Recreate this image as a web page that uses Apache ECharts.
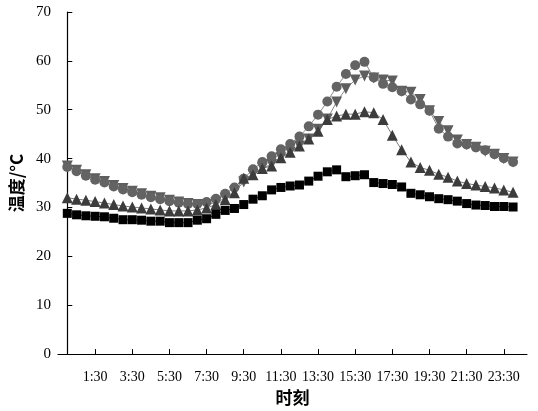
<!DOCTYPE html>
<html>
<head>
<meta charset="utf-8">
<script src="https://cdn.jsdelivr.net/npm/echarts@6/dist/echarts.min.js"></script>
<style>
html,body{margin:0;padding:0;background:#fff;}
#chart{width:538px;height:411px;}
</style>
</head>
<body>
<div id="chart"></div>
<script>
// time of each observation (hours)
var hours = [0,0.5,1,1.5,2,2.5,3,3.5,4,4.5,5,5.5,6,6.5,7,7.5,8,8.5,9,9.5,10,10.5,11,11.5,12,12.5,13,13.5,14,14.5,15,15.5,16,16.5,17,17.5,18,18.5,19,19.5,20,20.5,21,21.5,22,22.5,23,23.5,24];
var tickLabels = ['1:30','3:30','5:30','7:30','9:30','11:30','13:30','15:30','17:30','19:30','21:30','23:30'];
var tickHours = [1.5,3.5,5.5,7.5,9.5,11.5,13.5,15.5,17.5,19.5,21.5,23.5];

// series values (°C)
var seriesSquare = [28.8,28.5,28.3,28.2,28.1,27.8,27.5,27.5,27.4,27.2,27.2,26.9,26.9,26.9,27.4,27.7,28.6,29.4,29.8,30.6,31.7,32.4,33.6,34.1,34.4,34.6,35.4,36.4,37.3,37.7,36.3,36.5,36.7,35.1,34.9,34.7,34.2,32.9,32.6,32.2,31.8,31.6,31.3,30.8,30.5,30.4,30.2,30.2,30.1];
var seriesTriUp = [32.0,31.7,31.5,31.2,30.9,30.6,30.3,30.1,29.9,29.7,29.5,29.3,29.3,29.3,29.5,29.9,30.6,31.6,33.0,36.0,36.7,38.0,38.5,40.2,41.3,42.6,44.0,45.6,48.0,48.7,49.1,49.1,49.6,49.4,48.0,44.8,41.8,39.3,38.2,37.6,36.8,36.2,35.4,34.9,34.6,34.3,34.0,33.6,33.1];
var seriesCircle = [38.3,37.4,36.5,35.7,35.1,34.3,33.7,33.1,32.6,32.1,31.7,31.3,31.0,30.7,30.7,31.1,31.8,32.8,34.1,35.9,37.8,39.3,40.5,41.9,43.0,44.5,46.6,49.0,51.7,54.7,57.3,59.1,59.8,56.6,55.3,54.6,53.8,52.1,51.1,49.8,46.1,44.5,43.1,42.9,42.3,41.7,40.9,40.1,39.3];
var seriesTriDown = [38.5,37.6,36.7,35.9,35.3,34.5,33.9,33.3,32.8,32.3,32.0,31.5,31.1,30.8,30.6,30.6,31.0,31.9,33.2,35.2,36.7,38.1,38.8,40.2,41.3,42.6,44.0,46.0,48.1,51.6,54.3,56.1,56.9,56.5,56.1,55.9,53.8,53.6,52.1,49.8,47.6,45.7,43.8,42.9,42.3,41.5,40.9,40.0,39.3];

function pairs(vals){ return hours.map(function(h,i){ return [h, vals[i]]; }); }

var chart = echarts.init(document.getElementById('chart'), null, {renderer:'canvas'});
var serif = '"Liberation Serif","Times New Roman",serif';
var cjk = '"Noto Sans CJK SC","Noto Sans CJK JP",sans-serif';
chart.setOption({
  animation:false,
  backgroundColor:'#fff',
  grid:{left:58, right:11, top:12, height:350, containLabel:false},
  xAxis:{
    type:'value', min:-0.5, max:24.75, interval:2,
    name:'时刻', nameLocation:'middle', nameGap:30,
    nameTextStyle:{fontFamily:cjk, fontSize:17, fontWeight:'bold', color:'#000'},
    axisLine:{show:true, onZero:false, lineStyle:{color:'#000', width:1.2}},
    axisTick:{show:true, inside:true, length:5, lineStyle:{color:'#000'}},
    splitLine:{show:false},
    axisLabel:{margin:16, fontFamily:serif, fontSize:14, color:'#000', showMinLabel:false, showMaxLabel:false,
      formatter:function(v){ for (var i=0;i<tickHours.length;i++){ if (Math.abs(tickHours[i]-v)<1e-6) return tickLabels[i]; } return ''; }}
  },
  yAxis:{
    type:'value', min:0, max:70, interval:10,
    name:'温度/°C', nameLocation:'middle', nameGap:29, nameRotate:90,
    nameTextStyle:{fontFamily:cjk, fontSize:17, fontWeight:'bold', color:'#000'},
    axisLine:{show:true, lineStyle:{color:'#000', width:1.2}},
    axisTick:{show:true, inside:true, length:5, lineStyle:{color:'#000'}},
    splitLine:{show:false},
    axisLabel:{margin:7, fontFamily:serif, fontSize:15, color:'#000'}
  },
  series:[
    {name:'D', type:'line', data:pairs(seriesTriDown), symbol:'triangle', symbolRotate:180, symbolSize:11,
      itemStyle:{color:'#5e5e5e'}, lineStyle:{color:'#8a8a8a', width:1}},
    {name:'C', type:'line', data:pairs(seriesCircle), symbol:'circle', symbolSize:10,
      itemStyle:{color:'#636363'}, lineStyle:{color:'#8a8a8a', width:1}},
    {name:'B', type:'line', data:pairs(seriesTriUp), symbol:'triangle', symbolSize:11,
      itemStyle:{color:'#3c3c3c'}, lineStyle:{color:'#7a7a7a', width:1}},
    {name:'A', type:'line', data:pairs(seriesSquare), symbol:'rect', symbolSize:9,
      itemStyle:{color:'#000'}, lineStyle:{color:'#333', width:1}}
  ]
});
</script>
</body>
</html>
